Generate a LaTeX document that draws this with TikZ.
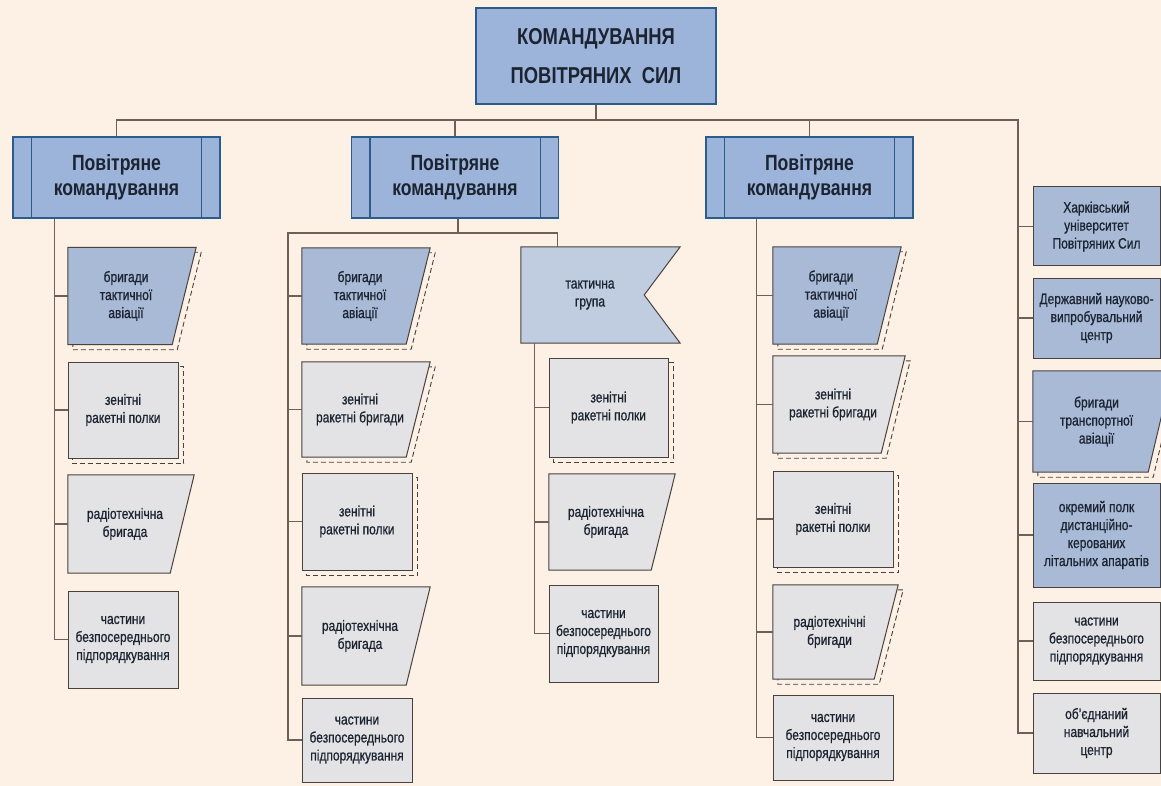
\documentclass[tikz,border=0pt]{standalone}
\usepackage{fontspec}
\setmainfont{Liberation Sans}[FakeStretch=0.8]
\newfontfamily\unitfam{Liberation Sans}[FakeStretch=0.8, FakeBold=0.8]
\usetikzlibrary{backgrounds}

\definecolor{paper}{RGB}{253,240,228}
\definecolor{cmdblue}{RGB}{157,180,218}
\definecolor{cmdline}{RGB}{42,92,140}
\definecolor{unitblue}{RGB}{168,186,214}
\definecolor{flagblue}{RGB}{192,204,224}
\definecolor{unitgrey}{RGB}{227,227,229}
\definecolor{unitline}{RGB}{72,66,62}
\definecolor{linkc}{RGB}{110,96,86}
\definecolor{ink}{RGB}{28,36,50}

\newcommand{\unitshape}[2]{([shift={(#1,-#1)}]#2.north west) -- ([shift={(#1+12pt,-#1)}]#2.north east) -- ([shift={(#1-12pt,-#1)}]#2.south east) -- ([shift={(#1,-#1)}]#2.south west) -- cycle}

\begin{document}
\begin{tikzpicture}[x=1pt, y=-1pt,
  every node/.style={text=ink, align=center},
  link/.style={draw=linkc, line width=1.1pt},
  sz/.style 2 args={minimum width=#1pt, minimum height=#2pt},
  unit/.style={inner sep=1pt, font=\unitfam\fontsize{15}{18}\selectfont},
  gbox/.style={unit, draw=unitline, line width=1pt, fill=unitgrey},
  bbox/.style={unit, draw=unitline, line width=1pt, fill=unitblue},
  tbox/.style={unit},
  cmd/.style={draw=cmdline, line width=1.3pt, fill=cmdblue, sz={207}{81}, font=\bfseries\fontsize{22}{25}\selectfont},
  unitedge/.style={draw=unitline, line width=1pt},
  shadowline/.style={draw=unitline, line width=0.9pt, dash pattern=on 5pt off 3pt}]
  \useasboundingbox (0,0) rectangle (1161,786);

  \node (top) [draw=cmdline, line width=1.3pt, fill=cmdblue, sz={240}{96}, font=\bfseries\fontsize{23}{39}\selectfont] at (596,56) {КОМАНДУВАННЯ\\ПОВІТРЯНИХ\ \ СИЛ};
  \node (p1) [cmd] at (116.5,177.5) {Повітряне\\командування};
  \node (p2) [cmd] at (455,177.5) {Повітряне\\командування};
  \node (p3) [cmd] at (809.5,177.5) {Повітряне\\командування};
  \foreach \n in {p1,p2,p3}
    \draw[cmdline, line width=1.3pt] ([xshift=19pt]\n.north west) -- ([xshift=19pt]\n.south west)
      ([xshift=-19pt]\n.north east) -- ([xshift=-19pt]\n.south east);

  \node (a1) [tbox, sz={116}{97}] at (126,296) {бригади\\тактичної\\авіації};
  \node (a2) [gbox, sz={110}{96}] at (123,410) {зенітні\\ракетні полки};
  \node (a3) [tbox, sz={114}{98}] at (125,524) {радіотехнічна\\бригада};
  \node (a4) [gbox, sz={110}{97}] at (123,639.5) {частини\\безпосереднього\\підпорядкування};

  \node (b1) [tbox, sz={116}{96}] at (360,296) {бригади\\тактичної\\авіації};
  \node (b2) [tbox, sz={116}{95}] at (360,409.5) {зенітні\\ракетні бригади};
  \node (b3) [gbox, sz={110}{97}] at (357,521.5) {зенітні\\ракетні полки};
  \node (b4) [tbox, sz={116}{98}] at (360,636) {радіотехнічна\\бригада};
  \node (b5) [gbox, sz={110}{84}] at (357,740) {частини\\безпосереднього\\підпорядкування};

  \node (tg) [tbox, sz={138}{96}] at (590,295) {тактична\\група};
  \node (c1) [gbox, sz={119}{99}] at (608.5,407.5) {зенітні\\ракетні полки};
  \node (c2) [tbox, sz={114}{96}] at (606,522) {радіотехнічна\\бригада};
  \node (c3) [gbox, sz={109}{97}] at (603.5,633.5) {частини\\безпосереднього\\підпорядкування};

  \node (d1) [tbox, sz={116}{97}] at (831,295.5) {бригади\\тактичної\\авіації};
  \node (d2) [tbox, sz={120}{97}] at (833,404.5) {зенітні\\ракетні бригади};
  \node (d3) [gbox, sz={120}{96}] at (833,519) {зенітні\\ракетні полки};
  \node (d4) [tbox, sz={113}{94}] at (829.5,632) {радіотехнічні\\бригади};
  \node (d5) [gbox, sz={120}{85}] at (833,737.5) {частини\\безпосереднього\\підпорядкування};

  \node (e1) [bbox, sz={127}{79}] at (1096.5,226.5) {Харківський\\університет\\Повітряних Сил};
  \node (e2) [bbox, sz={127}{80}] at (1096.5,318) {Державний науково-\\випробувальний\\центр};
  \node (e3) [tbox, sz={127}{101}] at (1096.5,421.5) {бригади\\транспортної\\авіації};
  \node (e4) [bbox, sz={127}{104}] at (1096.5,535) {окремий полк\\дистанційно-\\керованих\\літальних апаратів};
  \node (e5) [gbox, sz={127}{78}] at (1096.5,641) {частини\\безпосереднього\\підпорядкування};
  \node (e6) [gbox, sz={127}{80}] at (1096.5,733) {об’єднаний\\навчальний\\центр};

  \coordinate (bus) at (1018,120);
  \coordinate (sL) at ([xshift=42pt]p1.south west);
  \coordinate (sM) at (288,233);
  \coordinate (sT) at ([xshift=14pt]tg.south west);
  \coordinate (sR) at ([xshift=51pt]p3.south west);
  \coordinate (tgin) at ([xshift=37pt]tg.north west);

  \draw[link] (p1.north) |- (bus) |- (e6.west);
  \draw[link] (top.south) -- (top.south |- bus);
  \foreach \n in {p2,p3} \draw[link] (\n.north) -- (\n.north |- bus);
  \foreach \n in {e1,e2,e3,e4,e5} \draw[link] (bus |- \n.west) -- (\n.west);

  \draw[link] (sL) |- (a4.west);
  \foreach \n in {a1,a2,a3} \draw[link] (sL |- \n.west) -- (\n.west);

  \draw[link] ([xshift=3pt]p2.south) -- ([xshift=3pt]p2.south |- sM);
  \draw[link] (b5.west) -| (sM) -| (tgin);
  \foreach \n in {b1,b2,b3,b4} \draw[link] (sM |- \n.west) -- (\n.west);

  \draw[link] (sT) |- (c3.west);
  \foreach \n in {c1,c2} \draw[link] (sT |- \n.west) -- (\n.west);

  \draw[link] (sR) |- (d5.west);
  \foreach \n in {d1,d2,d3,d4} \draw[link] (sR |- \n.west) -- (\n.west);

  \begin{scope}[on background layer]
    \fill[paper] (0,0) rectangle (1161,786);
    \foreach \n in {a2,b3,c1,d3}
      \draw[shadowline] ([shift={(5pt,-5pt)}]\n.north west) rectangle ([shift={(5pt,-5pt)}]\n.south east);
    \foreach \n in {a1,b1,b2,d1,d2,d4,e3}
      \draw[shadowline] \unitshape{5pt}{\n};
    \foreach \n in {a1,b1,d1,e3}
      \filldraw[unitedge, fill=unitblue] \unitshape{0pt}{\n};
    \foreach \n in {a3,b2,b4,c2,d2,d4}
      \filldraw[unitedge, fill=unitgrey] \unitshape{0pt}{\n};
    \filldraw[unitedge, fill=flagblue] (tg.north west) -- ([xshift=21pt]tg.north east) -- ([xshift=-15pt]tg.east)
      -- ([xshift=21pt]tg.south east) -- (tg.south west) -- cycle;
  \end{scope}
\end{tikzpicture}
\end{document}
